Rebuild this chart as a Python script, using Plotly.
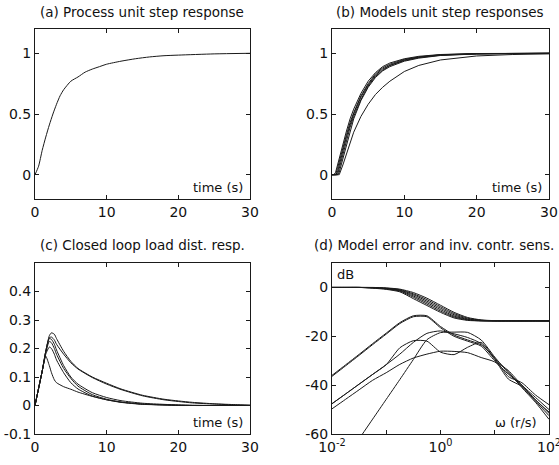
import plotly.graph_objects as go
from plotly.subplots import make_subplots

# ---------------- (a) process unit step response ----------------
t_a = [0, 0.5, 1, 1.5, 2, 2.5, 3, 3.5, 4, 5, 6, 7, 8, 9, 10, 12, 14, 16, 18, 20, 25, 30]
y_a = [0, 0.07, 0.2, 0.31, 0.41, 0.5, 0.58, 0.65, 0.7, 0.77, 0.805, 0.845, 0.87, 0.89,
       0.91, 0.935, 0.955, 0.97, 0.98, 0.985, 0.995, 1.0]

# ---------------- (b) models unit step responses ----------------
t_b = [0, 0.25, 0.5, 0.75, 1, 1.5, 2, 2.5, 3, 4, 5, 6, 7, 8, 10, 12, 15, 20, 25, 30]
y_b1 = [0, 0, 0.02, 0.08, 0.14, 0.25, 0.36, 0.46, 0.54, 0.67, 0.77, 0.84, 0.89, 0.92, 0.955, 0.975, 0.99, 0.998, 1, 1]
y_b2 = [0, 0, 0, 0.05, 0.11, 0.22, 0.33, 0.43, 0.51, 0.65, 0.75, 0.83, 0.88, 0.91, 0.95, 0.97, 0.988, 0.997, 1, 1]
y_b3 = [0, 0, 0, 0.02, 0.08, 0.2, 0.31, 0.41, 0.5, 0.64, 0.74, 0.82, 0.87, 0.9, 0.945, 0.968, 0.986, 0.996, 0.999, 1]
y_b4 = [0, 0, 0, 0, 0.05, 0.17, 0.29, 0.39, 0.48, 0.62, 0.73, 0.81, 0.86, 0.9, 0.94, 0.965, 0.984, 0.995, 0.999, 1]
y_b5 = [0, 0, 0, 0, 0.02, 0.13, 0.26, 0.37, 0.46, 0.61, 0.72, 0.8, 0.855, 0.89, 0.935, 0.96, 0.982, 0.994, 0.998, 1]
y_b6 = [0, 0, 0, 0, 0, 0.08, 0.17, 0.26, 0.35, 0.48, 0.58, 0.66, 0.72, 0.77, 0.85, 0.9, 0.945, 0.978, 0.99, 0.995]

# ---------------- (c) closed loop load disturbance responses ----------------
t_c = [0, 0.5, 1, 1.5, 2, 2.3, 2.7, 3, 4, 5, 6, 8, 10, 12, 15, 18, 20, 22, 25, 28, 30]
y_c1 = [0, 0.06, 0.12, 0.19, 0.245, 0.255, 0.25, 0.235, 0.19, 0.155, 0.13, 0.1, 0.078, 0.058, 0.036, 0.022, 0.016, 0.011, 0.006, 0.003, 0.001]
y_c2 = [0, 0.06, 0.12, 0.19, 0.238, 0.24, 0.23, 0.215, 0.18, 0.15, 0.128, 0.098, 0.075, 0.056, 0.034, 0.02, 0.014, 0.009, 0.005, 0.002, 0.001]
y_c3 = [0, 0.06, 0.12, 0.19, 0.235, 0.232, 0.215, 0.195, 0.14, 0.1, 0.075, 0.045, 0.028, 0.017, 0.008, 0.004, 0.002, 0.001, 0, 0, 0]
y_c4 = [0, 0.06, 0.12, 0.185, 0.225, 0.22, 0.2, 0.18, 0.13, 0.095, 0.068, 0.038, 0.022, 0.012, 0.005, 0.002, 0.001, 0, 0, 0, 0]
y_c5 = [0, 0.06, 0.12, 0.18, 0.205, 0.2, 0.18, 0.16, 0.115, 0.08, 0.058, 0.033, 0.02, 0.011, 0.004, 0.002, 0, 0, 0, 0, 0]
y_c6 = [0, 0.06, 0.12, 0.173, 0.14, 0.115, 0.09, 0.08, 0.066, 0.057, 0.047, 0.032, 0.02, 0.012, 0.005, 0.002, 0.001, 0, 0, 0, 0]

# ---------------- (d) model error and inverse controller sensitivity (dB) ----------------
w_d = [0.01, 0.0178, 0.0316, 0.0562, 0.1, 0.178, 0.316, 0.562, 1.0, 1.78, 3.16, 5.62,
       10.0, 17.8, 31.6, 56.2, 100.0]
u_d1 = [0, 0, 0, -0.3, -0.8, -1.8, -4.6, -7.4, -10.2, -12.5, -13.5, -13.7, -13.7, -13.7, -13.7, -13.7, -13.7]
u_d2 = [0, 0, 0, -0.2, -0.6, -1.5, -4.0, -6.8, -9.7, -12.1, -13.3, -13.7, -13.7, -13.7, -13.7, -13.7, -13.7]
u_d3 = [0, 0, 0, -0.15, -0.5, -1.3, -3.5, -6.2, -9.1, -11.7, -13.1, -13.6, -13.7, -13.7, -13.7, -13.7, -13.7]
u_d4 = [0, 0, 0, -0.1, -0.4, -1.1, -3.0, -5.6, -8.5, -11.2, -12.9, -13.5, -13.7, -13.7, -13.7, -13.7, -13.7]
u_d5 = [0, 0, 0, -0.05, -0.3, -0.9, -2.6, -5.0, -7.9, -10.7, -12.6, -13.4, -13.7, -13.7, -13.7, -13.7, -13.7]
u_d6 = [0, 0, 0, 0, -0.2, -0.7, -2.1, -4.4, -7.3, -10.2, -12.3, -13.3, -13.6, -13.7, -13.7, -13.7, -13.7]
l_d1 = [-36.4, -32.1, -27.8, -23.4, -19.1, -14.8, -12.0, -12.0, -16.5, -20.0, -22.0, -24.0, -30.0, -34.0, -40.0, -45.0, -50.0]
l_d2 = [-36.0, -31.7, -27.4, -23.0, -18.7, -14.4, -11.6, -11.6, -16.0, -19.5, -21.5, -23.5, -29.0, -36.5, -39.0, -44.0, -48.0]
l_d3 = [None, None, -62.0, -53.9, -45.8, -37.7, -29.5, -21.4, -18.5, -18.3, -18.4, -21.5, -28.5, -35.0, -40.5, -46.0, -51.5]
l_d4 = [-47.6, -43.6, -39.6, -35.6, -31.6, -27.3, -22.5, -18.8, -17.8, -19.0, -20.5, -23.0, -29.5, -37.5, -40.5, -46.5, -52.5]
l_d5 = [-47.6, -43.6, -39.6, -35.6, -31.6, -24.7, -21.8, -22.0, -26.5, -27.5, -24.5, -22.5, -29.0, -34.5, -41.0, -47.0, -54.0]
l_d6 = [-49.7, -45.8, -41.9, -38.0, -34.9, -31.5, -28.9, -27.3, -26.1, -26.2, -26.7, -28.7, -30.5, -35.5, -40.0, -46.0, -51.0]

# ---------------- texts ----------------
titles = ["(a) Process unit step response", "(b) Models unit step responses",
          "(c) Closed loop load dist. resp.", "(d) Model error and inv. contr. sens."]
time_label = "time (s)"
freq_label = "ω (r/s)"
db_label = "dB"
w_ticks = [0.01, 1, 100]
w_ticktext = ["10<sup>-2</sup>", "10<sup>0</sup>", "10<sup>2</sup>"]
w_minor = [0.1, 10]

W, H = 559, 465
LINE = "#1a1a1a"
FONT = "DejaVu Sans"

fig = make_subplots(rows=2, cols=2)

# pixel boxes: (left, right, top, bottom)
boxes = {(1, 1): (35, 250, 29, 199), (1, 2): (332, 549, 29, 199),
         (2, 1): (35, 250, 263, 434), (2, 2): (332, 549, 263, 434)}
title_x = [142, 440, 142, 434]


def add_line(x, y, row, col, shape="spline"):
    fig.add_trace(go.Scatter(x=x, y=y, mode="lines", showlegend=False,
                             line=dict(color=LINE, width=1, shape=shape,
                                       smoothing=0.6 if shape == "spline" else None),
                             connectgaps=False, hoverinfo="skip"), row=row, col=col)


add_line(t_a, y_a, 1, 1)
for yb in [y_b1, y_b2, y_b3, y_b4, y_b5, y_b6]:
    add_line(t_b, yb, 1, 2, shape="linear")
for yc in [y_c1, y_c2, y_c3, y_c4, y_c5, y_c6]:
    add_line(t_c, yc, 2, 1)
for yd in [u_d1, u_d2, u_d3, u_d4, u_d5, u_d6, l_d1, l_d2, l_d3, l_d4, l_d5, l_d6]:
    add_line(w_d, yd, 2, 2)

axis_common = dict(showline=True, mirror="ticks", linecolor=LINE, linewidth=1,
                   ticks="inside", ticklen=4, tickcolor=LINE, showgrid=False,
                   zeroline=False, automargin=False, ticklabeloverflow="allow",
                   tickfont=dict(family=FONT, size=14, color="#111"))

for (r, c), (l, rgt, t, b) in boxes.items():
    idx = (r - 1) * 2 + c
    xa = "xaxis" if idx == 1 else f"xaxis{idx}"
    ya = "yaxis" if idx == 1 else f"yaxis{idx}"
    fig.layout[xa].update(domain=[l / W, rgt / W], **axis_common)
    fig.layout[ya].update(domain=[1 - b / H, 1 - t / H], **axis_common)

for n in (1, 2, 3):
    xa = "xaxis" if n == 1 else f"xaxis{n}"
    fig.layout[xa].update(range=[0, 30], tickvals=[0, 10, 20, 30])
fig.layout.yaxis.update(range=[-0.2, 1.2], tickvals=[0, 0.5, 1], ticktext=["0", "0.5", "1"])
fig.layout.yaxis2.update(range=[-0.2, 1.2], tickvals=[0, 0.5, 1], ticktext=["0", "0.5", "1"])
fig.layout.yaxis3.update(range=[-0.1, 0.5], tickvals=[-0.1, 0, 0.1, 0.2, 0.3, 0.4],
                         ticktext=["-0.1", "0", "0.1", "0.2", "0.3", "0.4"])
fig.layout.xaxis4.update(type="log", range=[-2, 2], tickvals=w_ticks, ticktext=w_ticktext,
                         minor=dict(tickvals=w_minor, ticks="inside", ticklen=4,
                                    tickcolor=LINE, showgrid=False))
fig.layout.yaxis4.update(range=[-60, 10], tickvals=[-60, -40, -20, 0],
                         ticktext=["-60", "-40", "-20", "0"])

# titles
for i, ((r, c), (l, rgt, t, b)) in enumerate(boxes.items()):
    ty = 12 if r == 1 else 245
    fig.add_annotation(text=titles[i], xref="paper", yref="paper",
                       x=title_x[i] / W, y=1 - ty / H, xanchor="center", yanchor="middle",
                       showarrow=False, font=dict(family=FONT, size=13.5, color="#111"))

# inner labels
for n in (1, 2, 3):
    fig.add_annotation(text=time_label, xref=f"x{'' if n == 1 else n} domain",
                       yref=f"y{'' if n == 1 else n} domain", x=0.975, y=0.065,
                       xanchor="right", yanchor="middle", showarrow=False,
                       font=dict(family=FONT, size=13, color="#111"))
fig.add_annotation(text=freq_label, xref="x4 domain", yref="y4 domain", x=0.955, y=0.065,
                   xanchor="right", yanchor="middle", showarrow=False,
                   font=dict(family=FONT, size=13, color="#111"))
fig.add_annotation(text=db_label, xref="x4 domain", yref="y4 domain", x=0.012, y=0.93,
                   xanchor="left", yanchor="middle", showarrow=False,
                   font=dict(family=FONT, size=13, color="#111"))

fig.update_layout(width=W, height=H, margin=dict(l=0, r=0, t=0, b=0),
                  paper_bgcolor="white", plot_bgcolor="white", showlegend=False)

fig.write_html("out.html", config={"displayModeBar": False},
               post_script="document.body.style.margin='0';document.body.style.overflow='hidden';")
